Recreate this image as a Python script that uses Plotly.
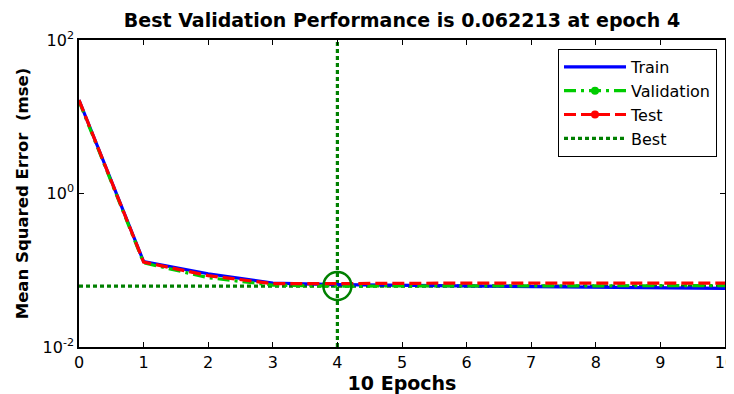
import plotly.graph_objects as go

epochs = list(range(11))
train = [16.5, 0.13, 0.09, 0.068, 0.065, 0.064, 0.063, 0.062, 0.061, 0.060, 0.058]
validation = [16.0, 0.125, 0.080, 0.064, 0.062213, 0.0625, 0.063, 0.063, 0.063, 0.063, 0.063]
test = [16.5, 0.128, 0.085, 0.067, 0.067, 0.068, 0.068, 0.068, 0.068, 0.068, 0.068]
best_epoch = 4
best_value = 0.062213
y_tickvals = [0.01, 1, 100]
y_ticktext = ["10<sup>-2</sup>", "10<sup>0</sup>", "10<sup>2</sup>"]

BLUE = "#0000ff"
GREEN = "#00cc00"
RED = "#ff0000"
DKGREEN = "#008000"
FONT = "DejaVu Sans, Arial, sans-serif"
LW = 3.2

# page body has an 8px margin, so figure is 726x386 placed at (8, 8)
W, H = 726, 386
L, T, R, B = 71, 32, 9, 47

fig = go.Figure()

# best lines
fig.add_trace(go.Scatter(x=[epochs[0], epochs[-1]], y=[best_value, best_value], mode="lines",
                         line=dict(color=DKGREEN, width=LW, dash="4px,3px"), showlegend=False, hoverinfo="skip"))
fig.add_trace(go.Scatter(x=[best_epoch, best_epoch], y=[0.01, 100], mode="lines",
                         line=dict(color=DKGREEN, width=LW, dash="4px,3px"), showlegend=False, hoverinfo="skip"))

# data
fig.add_trace(go.Scatter(x=epochs, y=train, mode="lines", line=dict(color=BLUE, width=LW),
                         showlegend=False))
fig.add_trace(go.Scatter(x=epochs, y=validation, mode="lines",
                         line=dict(color=GREEN, width=LW, dash="12px,5px,3px,5px"), showlegend=False))
fig.add_trace(go.Scatter(x=epochs, y=test, mode="lines", line=dict(color=RED, width=LW, dash="12px,5px"),
                         showlegend=False))

# best circle
fig.add_trace(go.Scatter(x=[best_epoch], y=[best_value], mode="markers",
                         marker=dict(symbol="circle-open", size=28, color=DKGREEN, line=dict(width=2.5, color=DKGREEN)),
                         showlegend=False))

# legend entries
fig.add_trace(go.Scatter(x=[None], y=[None], mode="lines", line=dict(color=BLUE, width=LW), name="Train"))
fig.add_trace(go.Scatter(x=[None], y=[None], mode="lines+markers",
                         line=dict(color=GREEN, width=LW, dash="12px,5px,3px,5px"),
                         marker=dict(color=GREEN, size=8), name="Validation"))
fig.add_trace(go.Scatter(x=[None], y=[None], mode="lines+markers", line=dict(color=RED, width=LW, dash="12px,5px"),
                         marker=dict(color=RED, size=8), name="Test"))
fig.add_trace(go.Scatter(x=[None], y=[None], mode="lines", line=dict(color=DKGREEN, width=LW, dash="4px,3px"),
                         name="Best"))

pw, ph = W - L - R, H - T - B
fig.update_layout(
    width=W, height=H,
    margin=dict(l=L, r=R, t=T, b=B),
    paper_bgcolor="white", plot_bgcolor="white",
    font=dict(family=FONT, size=15, color="black"),
    title=dict(text="<b>Best Validation Performance is 0.062213 at epoch 4</b>",
               x=(L + pw / 2) / W, xanchor="center", y=1 - 12 / H, yanchor="middle",
               font=dict(size=19, family=FONT)),
    legend=dict(x=(717 - 79) / 646, xanchor="right", y=(347 - 49) / 307, yanchor="top",
                bordercolor="black", borderwidth=1, bgcolor="white",
                font=dict(size=16, family=FONT), itemwidth=62),
    showlegend=True,
)
fig.update_xaxes(range=[0, 10], dtick=1, showgrid=False, zeroline=False, automargin=False,
                 showline=True, linecolor="black", linewidth=1.5, mirror="ticks",
                 ticks="inside", ticklen=5, tickcolor="black", tickfont=dict(size=16),
                 ticklabeloverflow="allow",
                 title=dict(text="<b>10 Epochs</b>", font=dict(size=19), standoff=0))
fig.update_yaxes(type="log", range=[-2, 2], tickvals=y_tickvals, ticktext=y_ticktext, automargin=False,
                 showgrid=False, zeroline=False,
                 showline=True, linecolor="black", linewidth=1.5, mirror="ticks",
                 ticks="inside", ticklen=5, tickcolor="black", tickfont=dict(size=16),
                 title=dict(text="<b>Mean Squared Error  (mse)</b>", font=dict(size=16.5), standoff=10))

fig.write_html("out.html")
